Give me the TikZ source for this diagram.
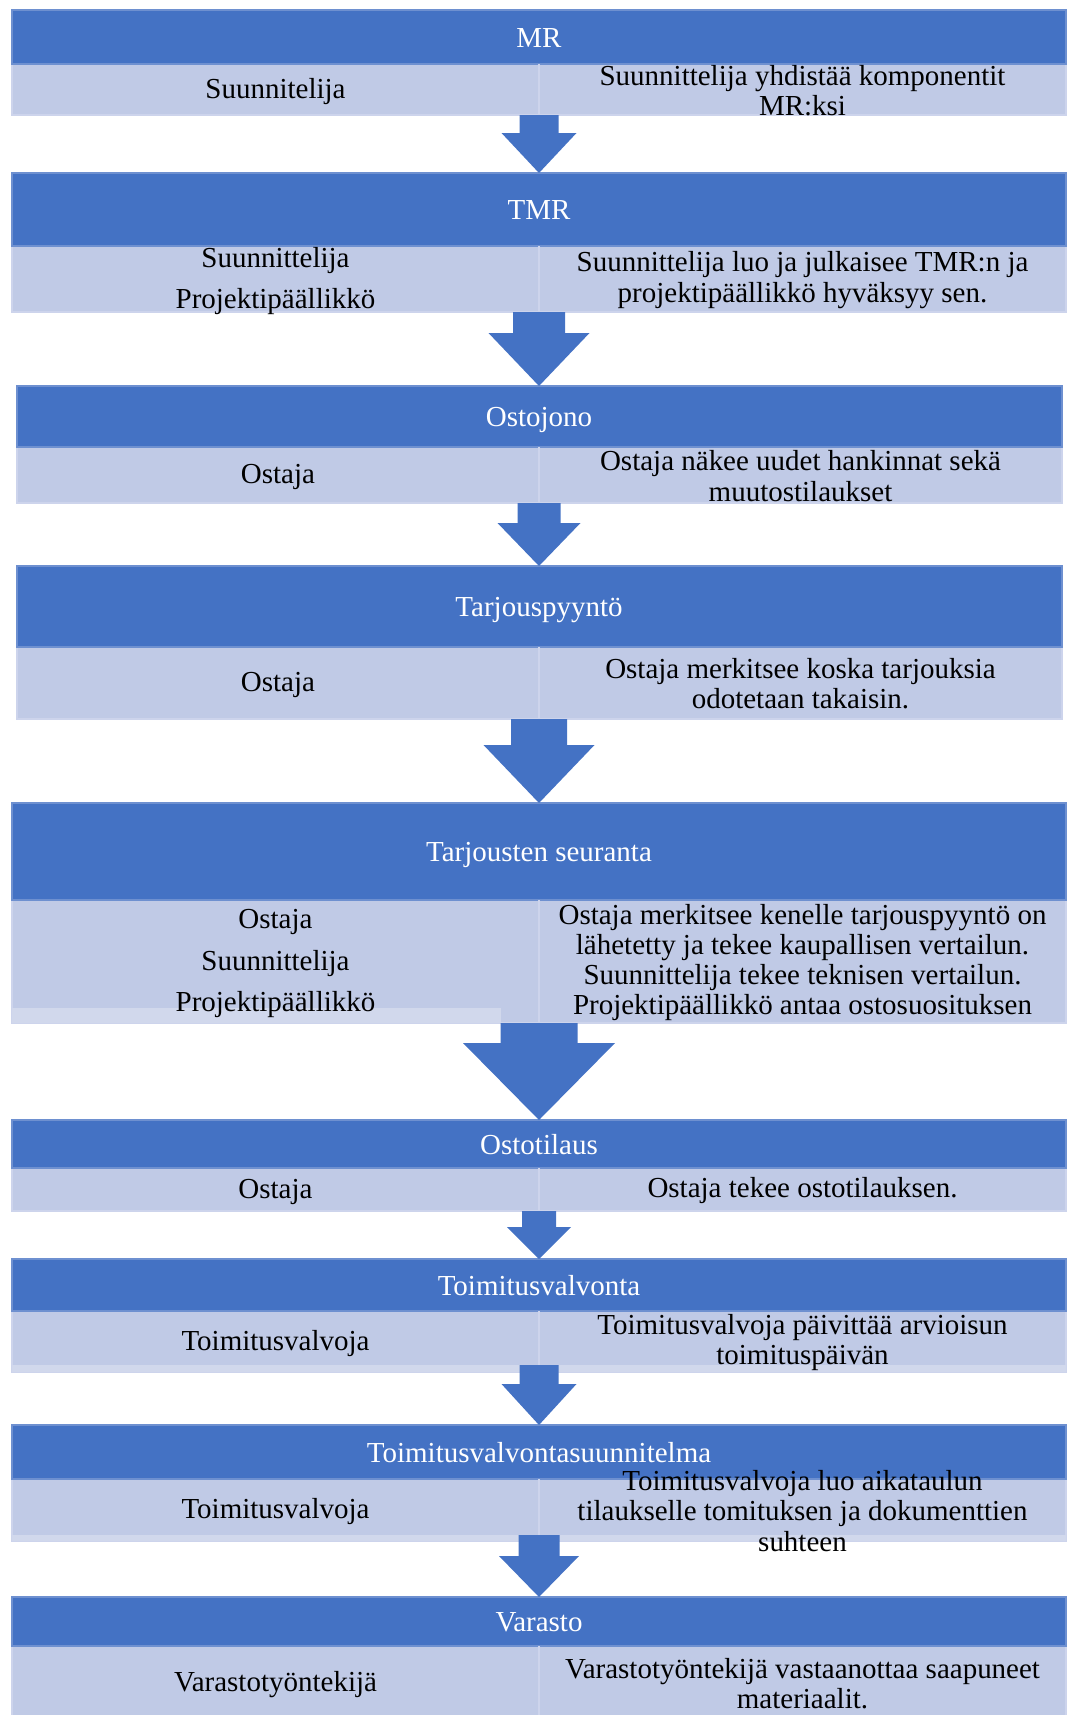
\documentclass[tikz,border=0pt]{standalone}
\usepackage{fontspec}
\setmainfont{Liberation Serif}
\definecolor{hdblue}{HTML}{4472C4}
\definecolor{hdline}{HTML}{6E90D0}
\definecolor{rowblue}{HTML}{C0CAE6}
\definecolor{rowline}{HTML}{CDD4EC}
\definecolor{paleblue}{HTML}{D1D8EC}
\tikzset{
  hdtext/.style={text=white,font=\fontsize{16.5}{17.2}\selectfont,text height=11pt,text depth=3.5pt},
  rowtext/.style={text=black,font=\fontsize{16.5}{17.2}\selectfont,align=center},
}

\begin{document}
\begin{tikzpicture}[x=0.02cm,y=-0.02cm]
  \useasboundingbox (0,0) rectangle (1066,1715);
  % blocks: number/top/middle/bottom/left/right/title
  \foreach \n/\t/\m/\b/\l/\r/\s in {1/10/64/115/12/1066/MR,2/173/246/312/12/1066/TMR,
    3/386/447/503/17/1062/Ostojono,4/566/647/719/17/1062/Tarjouspyyntö,
    5/803/900/1023/12/1066/Tarjousten seuranta,6/1120/1168/1211/12/1066/Ostotilaus,
    7/1259/1311/1372/12/1066/Toimitusvalvonta,8/1425/1479/1541/12/1066/Toimitusvalvontasuunnitelma,
    9/1597/1646/1720/12/1066/Varasto}
    {
      \filldraw[fill=rowblue,draw=rowline,line width=1pt](\l,\m)rectangle(\r,\b);
      \filldraw[fill=hdblue,draw=hdline,line width=0.6pt](\l,\t)rectangle(\r,\m);
      \draw[rowline,line width=1pt](539,\m)--(539,\b);
      \coordinate (top\n) at (539,\t);
      \coordinate (bot\n) at (539,\b);
      \coordinate (lc\n) at ({(\l+539)/2},{(\m+\b)/2+2});
      \coordinate (rc\n) at ({(\r+539)/2},{(\m+\b)/2+1});
      \node[hdtext] (hd\n) at (539,{(\t+\m)/2+3.5}) {\s};
    }
  % pale strips under some rows
  \fill[paleblue](12,1008)rectangle(501,1023);
  \fill[paleblue](12,1365)rectangle(1066,1372);
  \fill[paleblue](12,1535)rectangle(1066,1541);

  \node[rowtext] (who1) at (lc1) {Suunnitelija};
  \node[rowtext] (do1) at (rc1) {Suunnittelija yhdistää komponentit\\MR:ksi};
  \node[rowtext] (who2) at (lc2) {Suunnittelija\\[6.3pt]Projektipäällikkö};
  \node[rowtext] (do2) at (rc2) {Suunnittelija luo ja julkaisee TMR:n ja\\projektipäällikkö hyväksyy sen.};
  \node[rowtext] (who3) at (lc3) {Ostaja};
  \node[rowtext] (do3) at (rc3) {Ostaja näkee uudet hankinnat sekä\\muutostilaukset};
  \node[rowtext] (who4) at (lc4) {Ostaja};
  \node[rowtext] (do4) at (rc4) {Ostaja merkitsee koska tarjouksia\\odotetaan takaisin.};
  \node[rowtext] (who5) at (lc5) {Ostaja\\[6.3pt]Suunnittelija\\[6.3pt]Projektipäällikkö};
  \node[rowtext] (do5) at (rc5) {Ostaja merkitsee kenelle tarjouspyyntö on\\lähetetty ja tekee kaupallisen vertailun.\\Suunnittelija tekee teknisen vertailun.\\Projektipäällikkö antaa ostosuosituksen};
  \node[rowtext] (who6) at (lc6) {Ostaja};
  \node[rowtext] (do6) at (rc6) {Ostaja tekee ostotilauksen.};
  \node[rowtext] (who7) at (lc7) {Toimitusvalvoja};
  \node[rowtext] (do7) at (rc7) {Toimitusvalvoja päivittää arvioisun\\toimituspäivän};
  \node[rowtext] (who8) at (lc8) {Toimitusvalvoja};
  \node[rowtext] (do8) at (rc8) {Toimitusvalvoja luo aikataulun\\tilaukselle tomituksen ja dokumenttien\\suhteen};
  \node[rowtext] (who9) at (lc9) {Varastotyöntekijä};
  \node[rowtext] (do9) at (rc9) {Varastotyöntekijä vastaanottaa saapuneet\\materiaalit.};

  % block arrows: from/to/start/neck/shaft/head
  \foreach \a/\c/\o/\k/\w/\h in {1/2/0/18/19.5/37.5,2/3/0/21/26/50.5,3/4/0/20/21.5/41.5,
    4/5/0/26/28/55.5,5/6/0/20/38.5/76,6/7/0/16/17/32,7/8/-7/12/19.5/37.5,8/9/-6/15/20.5/40}
    {
      \fill[hdblue]([shift={(-\w,\o)}]bot\a)--([shift={(-\w,\k)}]bot\a)
        --([shift={(-\h,\k)}]bot\a)--(top\c)--([shift={(\h,\k)}]bot\a)
        --([shift={(\w,\k)}]bot\a)--([shift={(\w,\o)}]bot\a)--cycle;
    }
\end{tikzpicture}
\end{document}
